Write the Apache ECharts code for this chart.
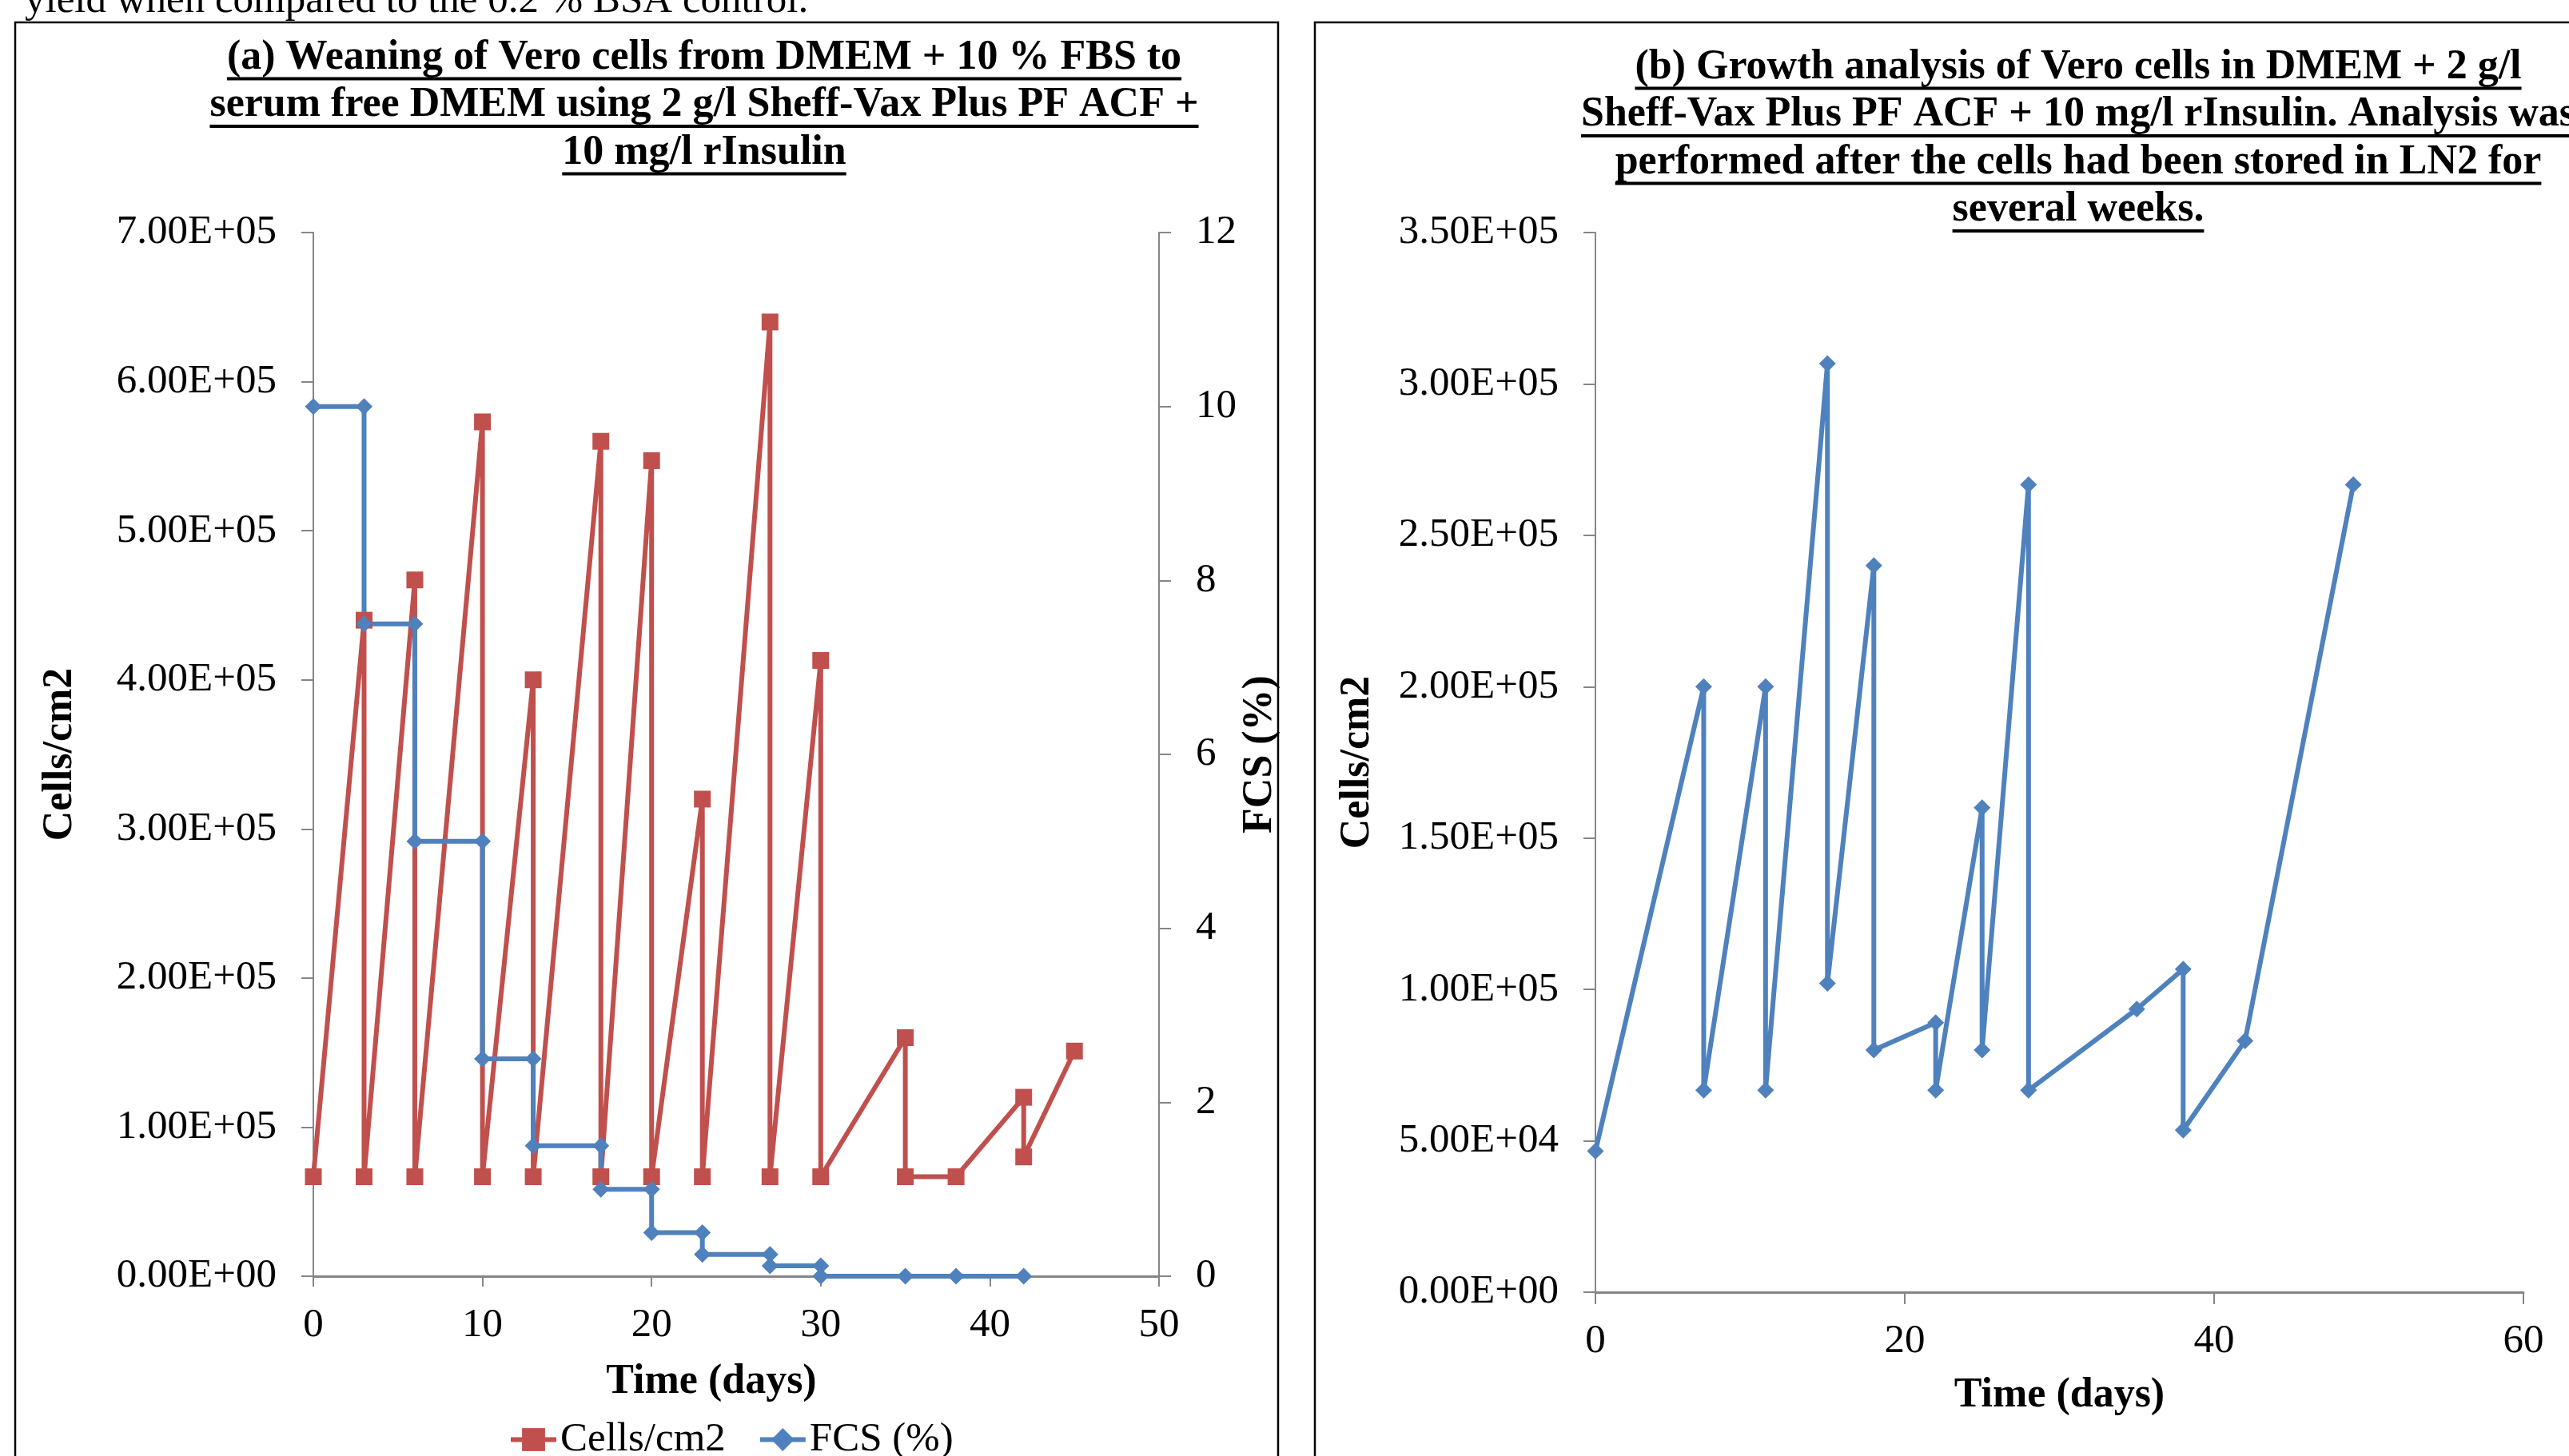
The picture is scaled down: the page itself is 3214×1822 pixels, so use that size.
<!DOCTYPE html>
<html>
<head>
<meta charset="utf-8">
<script src="https://cdn.jsdelivr.net/npm/echarts@6/dist/echarts.min.js"></script>
<style>
html,body{margin:0;padding:0;background:#fff;}
#chart{width:3214px;height:1822px;}
</style>
</head>
<body>
<div id="chart"></div>
<script>
// ---- Data ----
const cellsDays   = [0,3,3,6,6,10,10,13,13,17,17,20,20,23,23,27,27,30,30,35,35,38,42,42,45];
const cellsValues = [66700,440000,66700,467000,66700,573000,66700,400000,66700,560000,66700,547000,66700,320000,66700,640000,66700,413000,66700,160000,66700,66700,120000,80000,151000];
const fcsDays     = [0,3,3,6,6,10,10,13,13,17,17,20,20,23,23,27,27,30,30,35,38,42];
const fcsValues   = [10,10,7.5,7.5,5,5,2.5,2.5,1.5,1.5,1,1,0.5,0.5,0.25,0.25,0.12,0.12,0,0,0,0];
const growthDays   = [0,7,7,11,11,15,15,18,18,22,22,25,25,28,28,35,38,38,42,49];
const growthValues = [46600,200000,66700,200000,66700,306700,102000,240000,80000,89000,66700,160000,80000,266700,66700,93500,106700,53500,83000,266700];

const titleA = ['(a) Weaning of Vero cells from DMEM + 10 % FBS to',
                'serum free DMEM using 2 g/l Sheff-Vax Plus PF ACF +',
                '10 mg/l rInsulin'];
const titleB = ['(b) Growth analysis of Vero cells in DMEM + 2 g/l',
                'Sheff-Vax Plus PF ACF + 10 mg/l rInsulin. Analysis was',
                'performed after the cells had been stored in LN2 for',
                'several weeks.'];
const topText = 'yield when compared to the 0.2 % BSA control.';
const legendNames = ['Cells/cm2', 'FCS (%)'];

// ---- Helpers ----
const FONT = '"Liberation Serif", "Times New Roman", serif';
function sci(v){
  const s = Number(v).toExponential(2);
  const parts = s.split('e');
  const sign = parts[1][0] === '-' ? '-' : '+';
  let d = parts[1].replace(/[+-]/, '');
  if (d.length < 2) d = '0' + d;
  return parts[0] + 'E' + sign + d;
}
function pairs(xs, ys){ return xs.map((x,i)=>[x, ys[i]]); }

const measCtx = document.createElement('canvas').getContext('2d');
function textW(t, font){ measCtx.font = font; return measCtx.measureText(t).width; }

const titleFont = 'bold 52px ' + FONT;
function titleGraphics(lines, cx, firstMid, step){
  const g = [];
  lines.forEach((t, i) => {
    const mid = firstMid + i*step;
    const w = textW(t, titleFont);
    g.push({type:'text', x:cx, y:mid, z:10, style:{text:t, font:titleFont, fill:'#000', textAlign:'center', textVerticalAlign:'middle'}});
    g.push({type:'rect', z:10, shape:{x:cx - w/2, y:mid + 24, width:w, height:4}, style:{fill:'#000'}});
  });
  return g;
}

const axisLineGray = '#868686';
const labelStyle = {color:'#000', fontFamily:FONT, fontSize:51};
const nameStyle = {color:'#000', fontFamily:FONT, fontSize:52, fontWeight:'bold'};
const LW = 6;

const chart = echarts.init(document.getElementById('chart'));
const option = {
  animation:false,
  backgroundColor:'#fff',
  grid:[
    {left:392, top:291, width:1058, height:1306},
    {left:1996, top:291, width:1161, height:1326}
  ],
  legend:{
    data:legendNames,
    left:636, top:1776, padding:0,
    itemWidth:57, itemHeight:36, itemGap:40,
    lineStyle:{width:LW},
    textStyle:{color:'#000', fontFamily:FONT, fontSize:51}
  },
  xAxis:[
    {gridIndex:0, type:'value', min:0, max:50, interval:10,
     name:'Time (days)', nameLocation:'middle', nameGap:107,
     nameTextStyle:{...nameStyle, padding:[0, 62, 0, 0]},
     axisLine:{show:true, lineStyle:{color:axisLineGray, width:3}},
     axisTick:{show:true, length:13, lineStyle:{color:axisLineGray, width:2}},
     axisLabel:{...labelStyle, margin:36},
     splitLine:{show:false}},
    {gridIndex:1, type:'value', min:0, max:60, interval:20,
     name:'Time (days)', nameLocation:'middle', nameGap:104, nameTextStyle:nameStyle,
     axisLine:{show:true, lineStyle:{color:axisLineGray, width:3}},
     axisTick:{show:true, length:15, lineStyle:{color:axisLineGray, width:2}},
     axisLabel:{...labelStyle, margin:36},
     splitLine:{show:false}}
  ],
  yAxis:[
    {gridIndex:0, type:'value', min:0, max:700000, interval:100000, position:'left',
     name:'Cells/cm2', nameLocation:'middle', nameGap:290, nameTextStyle:nameStyle,
     axisLine:{show:true, lineStyle:{color:axisLineGray, width:2}},
     axisTick:{show:true, length:15, lineStyle:{color:axisLineGray, width:2}},
     axisLabel:{...labelStyle, margin:46, formatter:sci},
     splitLine:{show:false}},
    {gridIndex:0, type:'value', min:0, max:12, interval:2, position:'right',
     name:'FCS (%)', nameLocation:'middle', nameGap:90, nameRotate:90, nameTextStyle:nameStyle,
     axisLine:{show:true, lineStyle:{color:axisLineGray, width:2}},
     axisTick:{show:true, length:15, lineStyle:{color:axisLineGray, width:2}},
     axisLabel:{...labelStyle, margin:46},
     splitLine:{show:false}},
    {gridIndex:1, type:'value', min:0, max:350000, interval:50000,
     name:'Cells/cm2', nameLocation:'middle', nameGap:271, nameTextStyle:nameStyle,
     axisLine:{show:true, lineStyle:{color:axisLineGray, width:2}},
     axisTick:{show:true, length:15, lineStyle:{color:axisLineGray, width:2}},
     axisLabel:{...labelStyle, margin:46, formatter:sci},
     splitLine:{show:false}}
  ],
  series:[
    {name:'Cells/cm2', type:'line', xAxisIndex:0, yAxisIndex:0,
     data:pairs(cellsDays, cellsValues),
     symbol:'rect', symbolSize:21, showSymbol:true, showAllSymbol:true,
     itemStyle:{color:'#C0504D'}, lineStyle:{color:'#C0504D', width:LW}},
    {name:'FCS (%)', type:'line', xAxisIndex:0, yAxisIndex:1,
     data:pairs(fcsDays, fcsValues),
     symbol:'diamond', symbolSize:[21,21], showSymbol:true, showAllSymbol:true,
     itemStyle:{color:'#4F81BD'}, lineStyle:{color:'#4F81BD', width:LW}},
    {name:'Growth', type:'line', xAxisIndex:1, yAxisIndex:2,
     data:pairs(growthDays, growthValues),
     symbol:'diamond', symbolSize:[21,21], showSymbol:true, showAllSymbol:true,
     itemStyle:{color:'#4F81BD'}, lineStyle:{color:'#4F81BD', width:LW}}
  ],
  graphic:[].concat(
    [
      {type:'text', x:31, y:2, z:10, style:{text:topText, font:'51px ' + FONT, fill:'#000', textAlign:'left', textVerticalAlign:'middle'}},
      {type:'rect', z:5, shape:{x:19, y:28, width:1580, height:2000}, style:{fill:'none', stroke:'#000', lineWidth:2.5}},
      {type:'rect', z:5, shape:{x:1645, y:28, width:2000, height:2000}, style:{fill:'none', stroke:'#000', lineWidth:2.5}}
    ],
    titleGraphics(titleA, 881, 72.5, 59.5),
    titleGraphics(titleB, 2600, 84.5, 59.5)
  )
};
chart.setOption(option);
</script>
</body>
</html>
